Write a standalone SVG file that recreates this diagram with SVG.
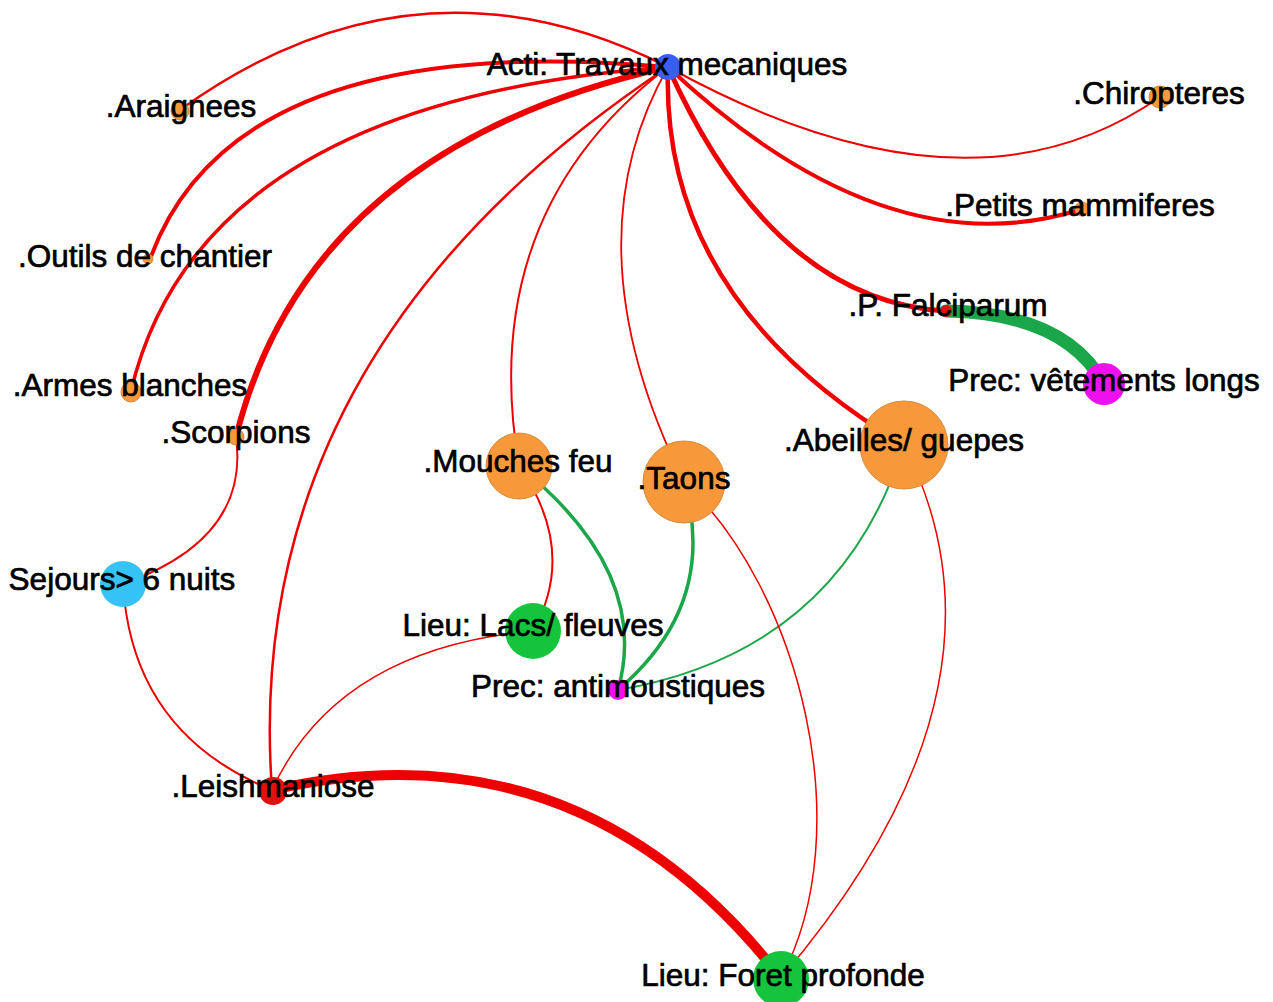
<svg xmlns="http://www.w3.org/2000/svg" width="1273" height="1002" viewBox="0 0 1273 1002">
<style>
.e{fill:none;stroke:#ee0000;stroke-linecap:round}
.g{fill:none;stroke:#1ba64a;stroke-linecap:round}
.or{fill:#f7993a;stroke:#d98a3a;stroke-width:1}
.gr{fill:#14c43c}
.mg{fill:#ee11ee}
.lb{font-family:"Liberation Sans",Arial,sans-serif;font-size:31.5px;fill:#000;stroke:#000;stroke-width:0.7px;text-anchor:middle}
</style>
<rect width="1273" height="1002" fill="#fff"/>
<g id="edges">
<path class="e" stroke-width="2.5" d="M180,110 Q416,-60 668,67"/>
<path class="e" stroke-width="4" d="M149,262 Q231,28 668,67"/>
<path class="e" stroke-width="3.5" d="M131,391 Q200,101 668,67"/>
<path class="e" stroke-width="6" d="M236,437 Q308,148 668,67"/>
<path class="e" stroke-width="2.5" d="M272,790 Q240,351 668,67"/>
<path class="e" stroke-width="2" d="M519,466 Q476,213 668,67"/>
<path class="e" stroke-width="1.8" d="M684,482 Q567,245 668,67"/>
<path class="e" stroke-width="4.5" d="M904,445 Q660,300 668,67"/>
<path class="e" stroke-width="5" d="M668,67 Q773,301 946,311"/>
<path class="e" stroke-width="4" d="M668,67 Q886,272 1082,209"/>
<path class="e" stroke-width="2" d="M668,67 Q967,232 1160,97"/>
<path class="e" stroke-width="2" d="M236,437 Q250,539 123,584"/>
<path class="e" stroke-width="2" d="M123,584 Q132,733 272,790"/>
<path class="e" stroke-width="1.5" d="M272,790 Q337,649 533,631"/>
<path class="e" stroke-width="10" d="M272,790 Q580,720 781,978"/>
<path class="e" stroke-width="2" d="M519,466 Q578,551 533,631"/>
<path class="g" stroke-width="3.5" d="M519,466 Q651,572 618,690"/>
<path class="g" stroke-width="3.5" d="M684,482 Q719,604 618,690"/>
<path class="g" stroke-width="2" d="M904,445 Q839,652 618,690"/>
<path class="e" stroke-width="1.5" d="M684,482 C800,590 860,830 781,978"/>
<path class="e" stroke-width="1.5" d="M904,445 Q1028,688 781,978"/>
<path class="g" stroke-width="13" stroke-linecap="butt" d="M946,311 Q1065,313 1104,384"/>
</g>
<g id="n-acti"><circle cx="668" cy="67" r="13" fill="#3b5ef2"/><text class="lb" x="667" y="75">Acti: Travaux mecaniques</text></g>
<g id="n-araignees"><circle class="or" cx="180" cy="111" r="9"/><text class="lb" x="181" y="117">.Araignees</text></g>
<g id="n-chiropteres"><circle class="or" cx="1160" cy="97" r="11"/><text class="lb" x="1159" y="104">.Chiropteres</text></g>
<g id="n-petits"><circle class="or" cx="1082" cy="209" r="7"/><text class="lb" x="1080" y="216">.Petits mammiferes</text></g>
<g id="n-outils"><circle class="or" cx="148" cy="259" r="5"/><text class="lb" x="145" y="267">.Outils de chantier</text></g>
<g id="n-armes"><circle class="or" cx="131" cy="392" r="10"/><text class="lb" x="130" y="396">.Armes blanches</text></g>
<g id="n-scorpions"><circle class="or" cx="236" cy="437" r="8"/><text class="lb" x="236" y="443">.Scorpions</text></g>
<g id="n-sejours"><circle cx="123" cy="584" r="23" fill="#35c2f4"/><text class="lb" x="122" y="590">Sejours&gt; 6 nuits</text></g>
<g id="n-mouches"><circle class="or" cx="519" cy="466" r="33"/><text class="lb" x="518" y="472">.Mouches feu</text></g>
<g id="n-taons"><circle class="or" cx="684" cy="482" r="41"/><text class="lb" x="684" y="489">.Taons</text></g>
<g id="n-abeilles"><circle class="or" cx="904" cy="445" r="44"/><text class="lb" x="904" y="451">.Abeilles/ guepes</text></g>
<g id="n-falciparum"><circle cx="946" cy="311" r="6" fill="#e31010"/><text class="lb" x="948" y="316">.P. Falciparum</text></g>
<g id="n-vetements"><circle class="mg" cx="1104" cy="384" r="21"/><text class="lb" x="1104" y="391">Prec: vêtements longs</text></g>
<g id="n-lacs"><circle class="gr" cx="533" cy="631" r="28"/><text class="lb" x="533" y="636">Lieu: Lacs/ fleuves</text></g>
<g id="n-antimoustiques"><circle class="mg" cx="618" cy="690" r="10"/><text class="lb" x="618" y="697">Prec: antimoustiques</text></g>
<g id="n-leishmaniose"><circle cx="273" cy="791" r="14" fill="#e31010"/><text class="lb" x="273" y="797">.Leishmaniose</text></g>
<g id="n-foret"><circle class="gr" cx="781" cy="979" r="28"/><text class="lb" x="783" y="986">Lieu: Foret profonde</text></g>
</svg>
